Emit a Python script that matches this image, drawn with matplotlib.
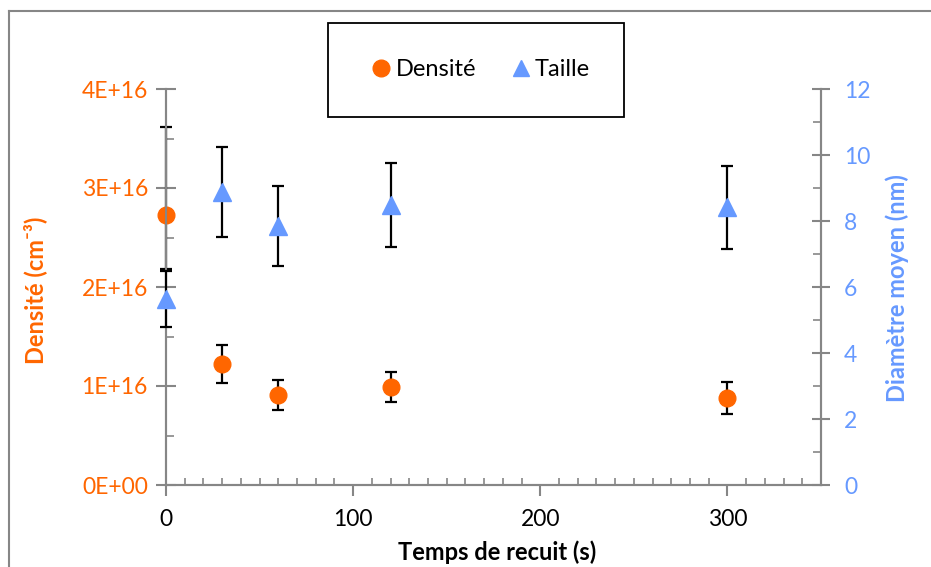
import matplotlib
matplotlib.use("Agg")
import matplotlib.pyplot as plt
from matplotlib.lines import Line2D
from matplotlib.patches import Rectangle
from matplotlib.ticker import FuncFormatter, MultipleLocator

plt.rcParams["font.family"] = ["Lato", "DejaVu Sans"]

# annealing time (s)
temps = [0, 30, 60, 120, 300]

# density (cm-3) with lower / upper error
densite = [2.73e16, 1.22e16, 0.91e16, 0.99e16, 0.88e16]
densite_err_bas = [0.55e16, 0.19e16, 0.15e16, 0.155e16, 0.165e16]
densite_err_haut = [0.89e16, 0.19e16, 0.15e16, 0.155e16, 0.165e16]

# mean diameter (nm)
taille = [5.65, 8.88, 7.85, 8.48, 8.42]
taille_err = [0.85, 1.35, 1.2, 1.27, 1.26]

orange = "#FF6600"
bleu = "#6699FF"
gris = "#868686"

W, H = 931, 567

fig = plt.figure(figsize=(W / 100, H / 100), dpi=100)
ax = fig.add_axes([166 / W, 1 - 485 / H, 655 / W, 396 / H])
ax2 = ax.twinx()

ax.errorbar(temps, densite, yerr=[densite_err_bas, densite_err_haut],
            fmt="o", color=orange, markersize=12, ecolor="black",
            elinewidth=1.6, capsize=4, capthick=1.6, clip_on=False, zorder=3)
ax2.errorbar(temps, taille, yerr=taille_err,
             fmt="^", color=bleu, markersize=12.5, ecolor="black",
             elinewidth=1.6, capsize=4, capthick=1.6, clip_on=False, zorder=3)

ax.set_xlim(0, 350)
ax.set_ylim(0, 4e16)
ax2.set_ylim(0, 12)

ax.xaxis.set_major_locator(MultipleLocator(100))
ax.xaxis.set_minor_locator(MultipleLocator(10))
ax.yaxis.set_major_locator(MultipleLocator(1e16))
ax.yaxis.set_minor_locator(MultipleLocator(0.5e16))
ax2.yaxis.set_major_locator(MultipleLocator(2))
ax2.yaxis.set_minor_locator(MultipleLocator(1))
ax.yaxis.set_major_formatter(FuncFormatter(lambda v, p: f"{v:.0E}"))

for a in (ax, ax2):
    a.spines["top"].set_visible(False)
    for s in ("left", "right", "bottom"):
        a.spines[s].set_color(gris)
        a.spines[s].set_linewidth(1.5)
    a.patch.set_visible(False)

ax.tick_params(axis="x", which="major", direction="out", length=8, width=1.5,
               color=gris, labelsize=16.5, pad=9)
ax.tick_params(axis="x", which="minor", direction="in", length=5, width=1.2,
               color=gris)
ax.tick_params(axis="y", which="major", direction="inout", length=14,
               width=1.5, color=gris, labelsize=16.5, labelcolor=orange, pad=6)
ax.tick_params(axis="y", which="minor", direction="in", length=6, width=1.2,
               color=gris)
ax2.tick_params(axis="y", which="major", direction="inout", length=13,
                width=1.5, color=gris, labelsize=16.5, labelcolor=bleu, pad=10)
ax2.tick_params(axis="y", which="minor", direction="in", length=6, width=1.2,
                color=gris)

# axis titles
fig.text(497 / W, 1 - 552 / H, "Temps de recuit (s)", fontsize=17,
         fontweight="bold", ha="center", va="center")
fig.text(35 / W, 1 - 290 / H, "Densité (cm⁻³)", fontsize=17,
         fontweight="bold", color=orange, rotation=90,
         ha="center", va="center")
fig.text(897 / W, 1 - 288 / H, "Diamètre moyen (nm)", fontsize=17,
         fontweight="bold", color=bleu, rotation=90,
         ha="center", va="center")

# legend box
fig.add_artist(Rectangle((328 / W, 1 - 117 / H), 296 / W, 94 / H,
                         transform=fig.transFigure, fill=False,
                         edgecolor="black", linewidth=1.3))
handles = [
    Line2D([], [], marker="o", linestyle="", color=orange, markersize=12),
    Line2D([], [], marker="^", linestyle="", color=bleu, markersize=12),
]
fig.legend(handles, ["Densité", "Taille"], loc="center",
           bbox_to_anchor=(481 / W, 1 - 70 / H), ncol=2, frameon=False,
           fontsize=17, handlelength=0.8, handletextpad=0.2,
           columnspacing=1.5)

# outer chart border (partially visible)
fig.add_artist(Line2D([9 / W, 1], [1 - 11 / H, 1 - 11 / H],
                      transform=fig.transFigure, color=gris, linewidth=1.5))
fig.add_artist(Line2D([9 / W, 9 / W], [0, 1 - 11 / H],
                      transform=fig.transFigure, color=gris, linewidth=1.5))

fig.savefig("out.png", dpi=100)
